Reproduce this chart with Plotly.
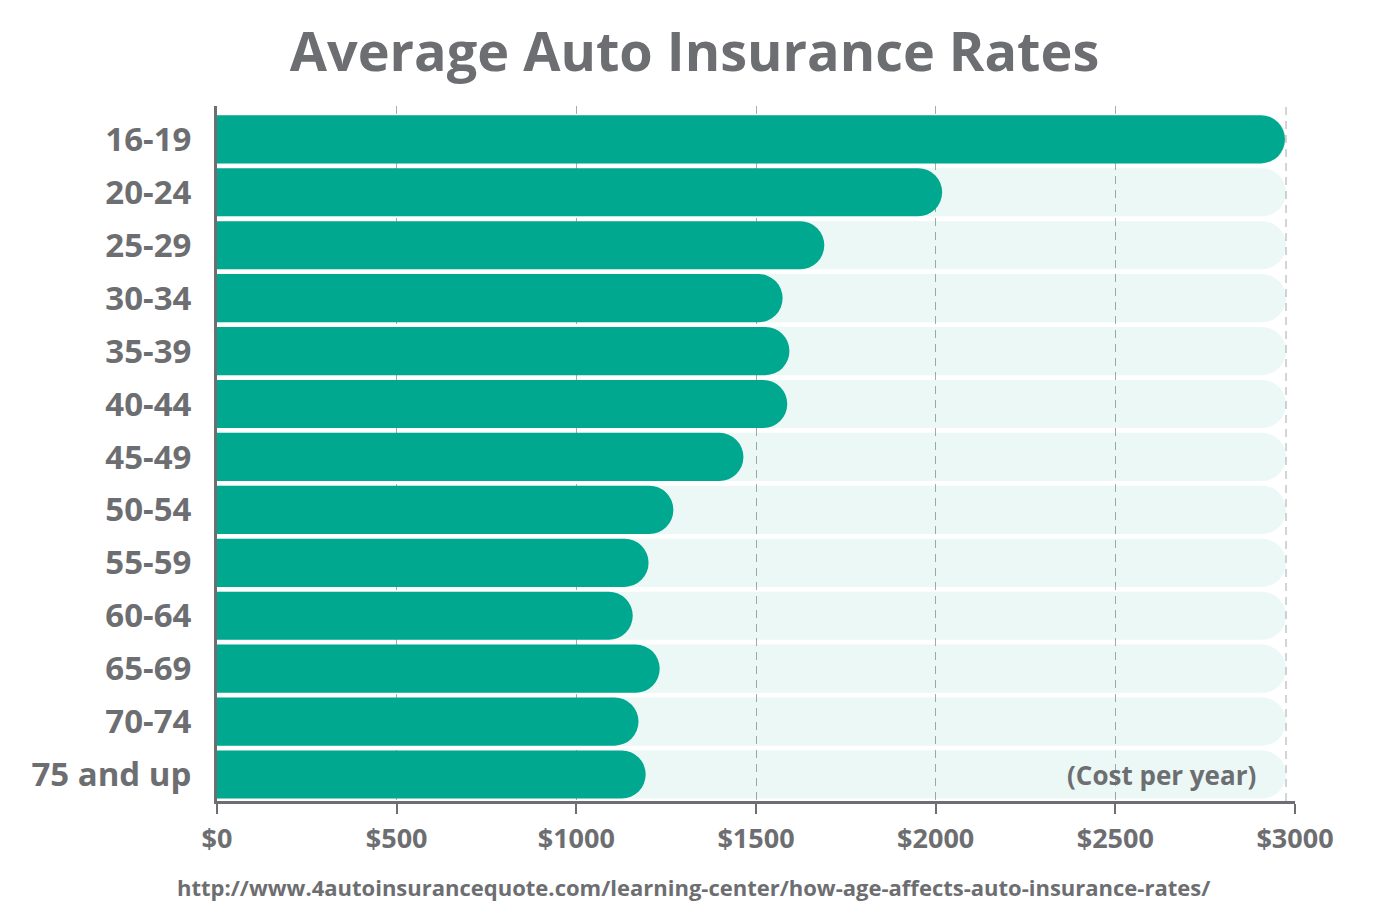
import plotly.graph_objects as go

age_groups = ["16-19", "20-24", "25-29", "30-34", "35-39", "40-44", "45-49",
              "50-54", "55-59", "60-64", "65-69", "70-74", "75 and up"]
avg_rates = [2972, 2018, 1690, 1574, 1593, 1587, 1465, 1270, 1201, 1157, 1232, 1173, 1193]
bg_max = 2975
x_ticks = [0, 500, 1000, 1500, 2000, 2500, 3000]
x_tick_labels = ["$0", "$500", "$1000", "$1500", "$2000", "$2500", "$3000"]

GRAY = "#6d6e71"
GREEN = "#00a88f"
FONT = "Open Sans"

fig = go.Figure()
# light track behind every bar (own axis so each bar gets its rounded end)
fig.add_trace(go.Bar(
    y=age_groups, x=[bg_max] * len(age_groups), orientation="h",
    marker=dict(color="rgba(0,168,143,0.08)", cornerradius="50%", line_width=0),
    hoverinfo="skip", showlegend=False,
))
fig.add_trace(go.Bar(
    y=age_groups, x=avg_rates, orientation="h", yaxis="y2",
    marker=dict(color=GREEN, cornerradius="50%", line_width=0),
    hovertemplate="%{y}: $%{x}<extra></extra>", showlegend=False,
))

fig.add_shape(type="line", x0=bg_max, x1=bg_max, y0=0, y1=1, yref="paper",
              line=dict(color="#a7a9ac", width=1, dash="8px,6px"), layer="below")

fig.add_annotation(x=2897, y="75 and up", xref="x", yref="y", xanchor="right",
                   text="<b>(Cost per year)</b>", showarrow=False,
                   font=dict(family=FONT, size=26, color=GRAY))
fig.add_annotation(x=0.442, y=-0.124, xref="paper", yref="paper", yanchor="middle",
                   text="<b>http://www.4autoinsurancequote.com/learning-center/how-age-affects-auto-insurance-rates/</b>",
                   showarrow=False, font=dict(family=FONT, size=22, color=GRAY))

cat_axis = dict(
    type="category", categoryorder="array", categoryarray=age_groups,
    range=[12.5, -0.63], fixedrange=True, showgrid=False, zeroline=False,
)
fig.update_layout(
    width=1389, height=914,
    margin=dict(l=217, r=94, t=106, b=113),
    paper_bgcolor="white", plot_bgcolor="white",
    barmode="overlay", bargap=0.09,
    title=dict(text="<b>Average Auto Insurance Rates</b>", x=0.5, xanchor="center",
               y=1 - 52 / 914, yanchor="middle",
               font=dict(family=FONT, size=54, color=GRAY)),
    font=dict(family=FONT, color=GRAY),
    yaxis=dict(
        **cat_axis,
        tickvals=age_groups, ticktext=[f"<b>{a}</b>" for a in age_groups],
        showline=True, linecolor=GRAY, linewidth=3, ticks="", ticklabelstandoff=16,
        tickfont=dict(family=FONT, size=33, color=GRAY),
    ),
    yaxis2=dict(**cat_axis, overlaying="y", visible=False),
)
fig.update_xaxes(
    range=[0, 3000], tickvals=x_ticks, ticktext=[f"<b>{t}</b>" for t in x_tick_labels],
    showline=True, linecolor=GRAY, linewidth=3,
    ticks="outside", ticklen=10, tickwidth=2, tickcolor=GRAY, ticklabelstandoff=2,
    tickfont=dict(family=FONT, size=27, color=GRAY),
    showgrid=True, gridcolor="#a7a9ac", gridwidth=1, griddash="8px,6px",
    zeroline=False, fixedrange=True,
)

fig.write_html("out.html", config={"displayModeBar": False},
               post_script="document.body.style.margin='0';")
